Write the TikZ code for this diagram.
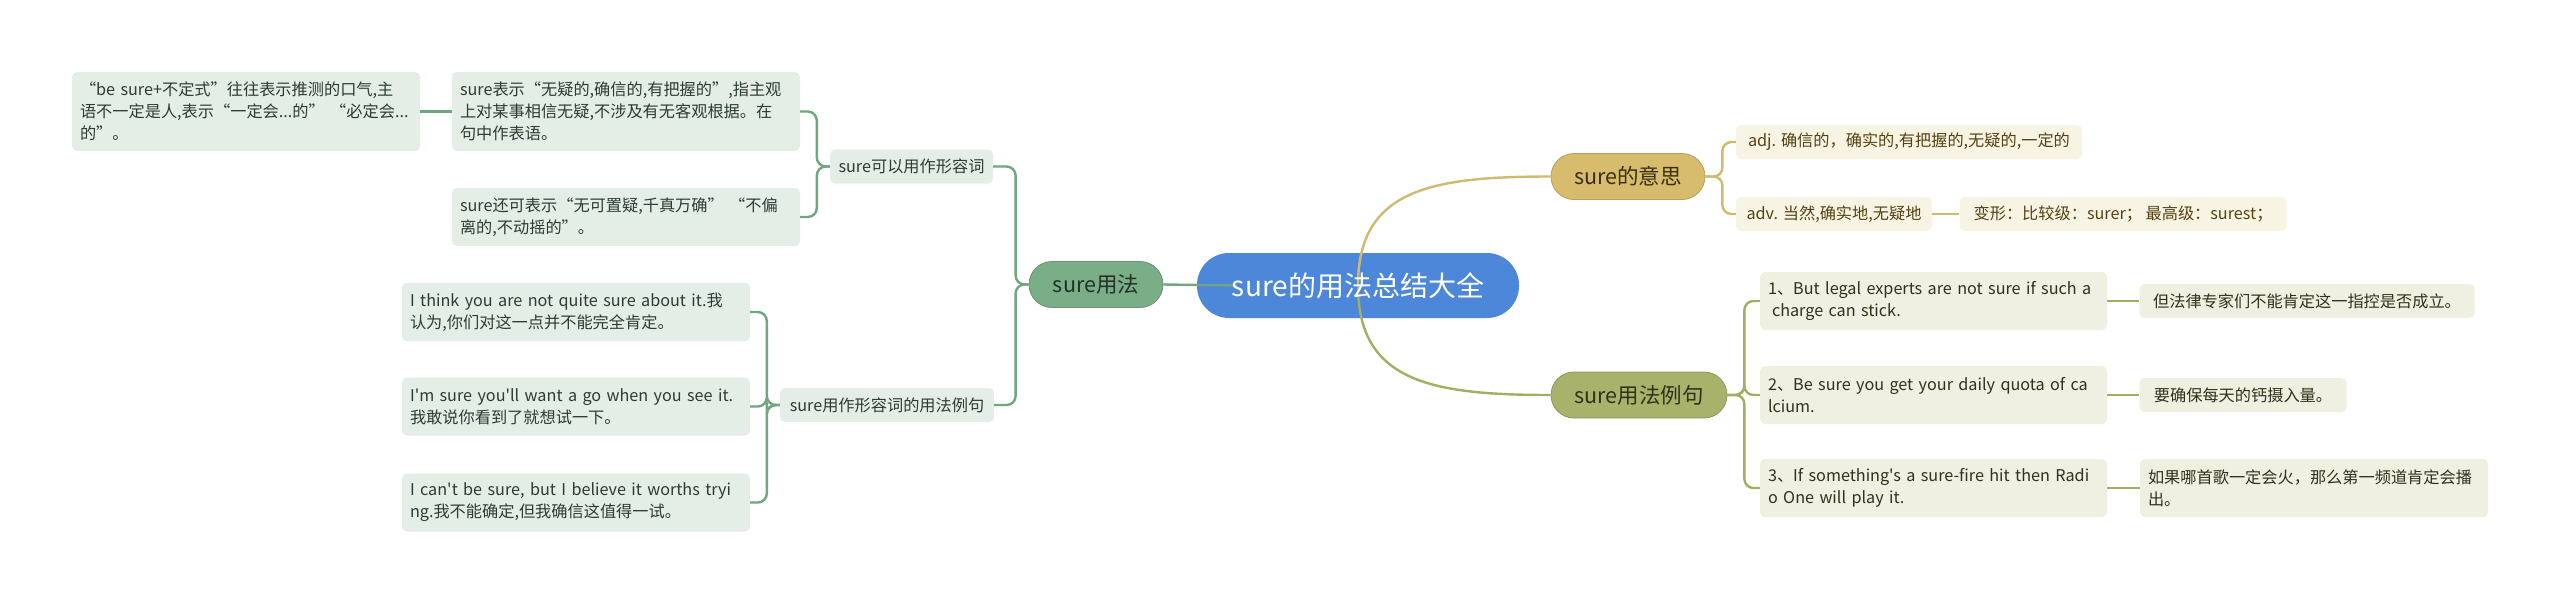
\documentclass[tikz,border=0pt]{standalone}
\usepackage{fontspec}
\newfontfamily\cjk{Noto Sans CJK SC}
\usetikzlibrary{calc}

\definecolor{rootblue}{RGB}{76,135,218}
\definecolor{usegreen}{RGB}{122,174,135}
\definecolor{useleaf}{RGB}{228,238,231}
\definecolor{useline}{RGB}{112,166,128}
\definecolor{usetext}{RGB}{44,60,50}
\definecolor{meangold}{RGB}{214,188,108}
\definecolor{meanleaf}{RGB}{248,244,227}
\definecolor{meanline}{RGB}{208,186,112}
\definecolor{meantext}{RGB}{84,66,18}
\definecolor{exolive}{RGB}{168,178,106}
\definecolor{exleaf}{RGB}{239,239,226}
\definecolor{exline}{RGB}{164,174,96}
\definecolor{extext}{RGB}{48,50,24}

\tikzset{
  rootbox/.style={fill=rootblue, rounded corners=32pt, minimum width=322pt, minimum height=65pt, inner sep=0pt},
  roottext/.style={text=white, font=\cjk\fontsize{28}{32}\selectfont},
  branch/.style={rounded corners=23pt, minimum height=46pt, inner sep=0pt, line width=0.8pt, font=\cjk\fontsize{21.5}{26}\selectfont},
  leaf/.style={rounded corners=5pt, inner xsep=8pt, inner ysep=0pt, minimum height=34pt, align=left, font=\cjk\fontsize{16.2}{22}\selectfont},
  useleafbox/.style={leaf, fill=useleaf, text=usetext},
  meanleafbox/.style={leaf, fill=meanleaf, text=meantext},
  exleafbox/.style={leaf, fill=exleaf, text=extext},
  link/.style={line width=2.4pt, rounded corners=9pt},
}

\begin{document}
\begin{tikzpicture}[x=1pt, y=-1pt]
  \fill[white] (0,0) rectangle (2560,603);
  \useasboundingbox (0,0) rectangle (2560,603);

  % centre
  \node[rootbox] (root) at (1358,285.5) {};

  % sure用法
  \node[branch, fill=usegreen, draw=usegreen!85!black, text=usetext!80!black, minimum width=134pt] (use) at (1096,284.5) {sure用法};
  \node[useleafbox, minimum width=163pt] (adjU) at (911.5,166.5) {sure可以用作形容词};
  \node[useleafbox, text width=332pt, minimum height=79pt] (L1) at (246,111.5)
    {“be sure+不定式”往往表示推测的口气,主\\\mbox{语不一定是人,表示“一定会...的” “必定会...}\\的”。};
  \node[useleafbox, text width=332pt, minimum height=79pt] (L2) at (626,111.5)
    {\mbox{sure表示“无疑的,确信的,有把握的”,指主观}\\上对某事相信无疑,不涉及有无客观根据。在\\句中作表语。};
  \node[useleafbox, text width=332pt, minimum height=58pt] (L3) at (626,217)
    {\mbox{sure还可表示“无可置疑,千真万确” “不偏}\\离的,不动摇的”。};
  \node[useleafbox, minimum width=214pt] (adjEx) at (887,405) {sure用作形容词的用法例句};
  \node[useleafbox, text width=332pt, minimum height=58pt] (E1) at (576,312)
    {\mbox{I think you are not quite sure about it.我}\\认为,你们对这一点并不能完全肯定。};
  \node[useleafbox, text width=332pt, minimum height=58pt] (E2) at (576,406.5)
    {\mbox{I'm sure you'll want a go when you see it.}\\我敢说你看到了就想试一下。};
  \node[useleafbox, text width=332pt, minimum height=58pt] (E3) at (576,502.5)
    {\mbox{I can't be sure, but I believe it worths tryi}\\ng.我不能确定,但我确信这值得一试。};

  % sure的意思
  \node[branch, fill=meangold, draw=meangold!85!black, text=meantext!70!black, minimum width=154pt] (mean) at (1628,176.5) {sure的意思};
  \node[meanleafbox, minimum width=346pt] (adj) at (1909,142) {adj. 确信的，确实的,有把握的,无疑的,一定的};
  \node[meanleafbox, minimum width=196pt] (adv) at (1834,214) {adv. 当然,确实地,无疑地};
  \node[meanleafbox, minimum width=327pt] (var) at (2123,214) {变形：比较级：surer； 最高级：surest；};

  % sure用法例句
  \node[branch, fill=exolive, draw=exolive!85!black, text=extext, minimum width=176pt] (ex) at (1639,395) {sure用法例句};
  \node[exleafbox, text width=331pt, minimum height=58pt] (X1) at (1933.5,301)
    {\mbox{1、But legal experts are not sure if such a}\\\hspace*{4pt}charge can stick.};
  \node[exleafbox, text width=331pt, minimum height=58pt] (X2) at (1933.5,395)
    {\mbox{2、Be sure you get your daily quota of ca}\\lcium.};
  \node[exleafbox, text width=331pt, minimum height=58pt] (X3) at (1933.5,488)
    {\mbox{3、If something's a sure-fire hit then Radi}\\o One will play it.};
  \node[exleafbox, minimum width=335pt] (T1) at (2307,301) {但法律专家们不能肯定这一指控是否成立。};
  \node[exleafbox, minimum width=207pt] (T2) at (2243,395) {要确保每天的钙摄入量。};
  \node[exleafbox, text width=332pt, minimum height=58pt] (T3) at (2314,488)
    {\mbox{如果哪首歌一定会火，那么第一频道肯定会播}\\出。};

  % links, left
  \draw[link, useline] (use.east) -- ([xshift=40pt]root.west);
  \draw[link, useline] (use.west) -- ++(-13,0) |- (adjU.east);
  \draw[link, useline] (use.west) -- ++(-13,0) |- (adjEx.east);
  \draw[link, useline] (adjU.west) -- ++(-13,0) |- (L2.east);
  \draw[link, useline] (adjU.west) -- ++(-13,0) |- (L3.east);
  \draw[link, useline] (L1.east) -- (L2.west);
  \foreach \e in {E1,E2,E3}
    \draw[link, useline] (adjEx.west) -- ++(-13,0) |- (\e.east);

  % links, right
  \draw[line width=2.4pt, meanline] (root.center) .. controls +(0,-96) and +(-120,0) .. (mean.west);
  \draw[line width=2.4pt, exline] (root.center) .. controls +(0,96) and +(-120,0) .. (ex.west);
  \draw[link, meanline] (mean.east) -- ++(17,0) |- (adj.west);
  \draw[link, meanline] (mean.east) -- ++(17,0) |- (adv.west);
  \draw[link, meanline] (adv.east) -- (var.west);
  \foreach \x/\t in {X1/T1,X2/T2,X3/T3} {
    \draw[link, exline] (ex.east) -- ++(17,0) |- (\x.west);
    \draw[link, exline] (\x.east) -- (\t.west);
  }

  \node[roottext] at (root.center) {sure的用法总结大全};
\end{tikzpicture}
\end{document}
